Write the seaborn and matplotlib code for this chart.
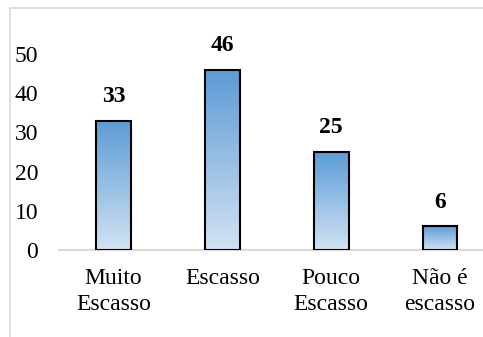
import numpy as np
import pandas as pd
import seaborn as sns
import matplotlib.pyplot as plt
from matplotlib.colors import LinearSegmentedColormap
from matplotlib.patches import Rectangle

categories = ["Muito\nEscasso", "Escasso", "Pouco\nEscasso", "Não é\nescasso"]
values = [33, 46, 25, 6]
yticks = [0, 10, 20, 30, 40, 50]

df = pd.DataFrame({"categoria": categories, "valor": values})

sns.set_theme(style="white")
plt.rcParams["font.family"] = ["Liberation Serif", "DejaVu Serif"]

W, H = 483, 337
fig = plt.figure(figsize=(W / 100, H / 100), dpi=100)

# chart-area border (cropped on right and bottom like the reference)
fig.patches.append(Rectangle((10 / W, -0.1), 1.2, 1 - 8 / H + 0.1,
                             transform=fig.transFigure, fill=False,
                             edgecolor="#d9d9d9", linewidth=1.2, clip_on=False))

ax_left, ax_right = 59 / W, 494.5 / W
ax_bottom = (H - 250) / H
ymax = 55
ax_top = (H - (250 - ymax * 3.92)) / H
ax = fig.add_axes([ax_left, ax_bottom, ax_right - ax_left, ax_top - ax_bottom])
ax.set_facecolor("none")

sns.barplot(data=df, x="categoria", y="valor", ax=ax, width=0.32,
            color="#5b9bd5", edgecolor="black", linewidth=1.5, zorder=3)

ax.set_xlim(-0.5, 3.5)
ax.set_ylim(0, ymax)

# gradient fill inside each bar
cmap = LinearSegmentedColormap.from_list("grad", ["#d2e3f4", "#5b9bd5"])
grad = np.linspace(0, 1, 256).reshape(-1, 1)
for p in ax.patches:
    x0, y0 = p.get_x(), p.get_y()
    w, h = p.get_width(), p.get_height()
    p.set_facecolor("none")
    im = ax.imshow(grad, cmap=cmap, origin="lower", aspect="auto",
                   extent=[x0, x0 + w, y0, y0 + h], zorder=2)
    im.set_clip_path(p)

for i, v in enumerate(values):
    ax.annotate(str(v), (i, v), xytext=(0, 10), textcoords="offset points",
                ha="center", va="bottom", fontsize=17, fontweight="bold",
                color="black")

for s in ["top", "right", "left"]:
    ax.spines[s].set_visible(False)
ax.spines["bottom"].set_color("#d9d9d9")
ax.spines["bottom"].set_linewidth(1.5)
ax.spines["bottom"].set_zorder(1)

ax.set_yticks(yticks)
ax.set_xlabel("")
ax.set_ylabel("")
ax.tick_params(axis="y", length=0, pad=15, labelsize=17, labelcolor="black")
ax.tick_params(axis="x", length=0, pad=13, labelsize=17, labelcolor="black")
for lbl in ax.get_xticklabels():
    lbl.set_linespacing(1.3)
ax.grid(False)

fig.savefig("out.png", dpi=100)
